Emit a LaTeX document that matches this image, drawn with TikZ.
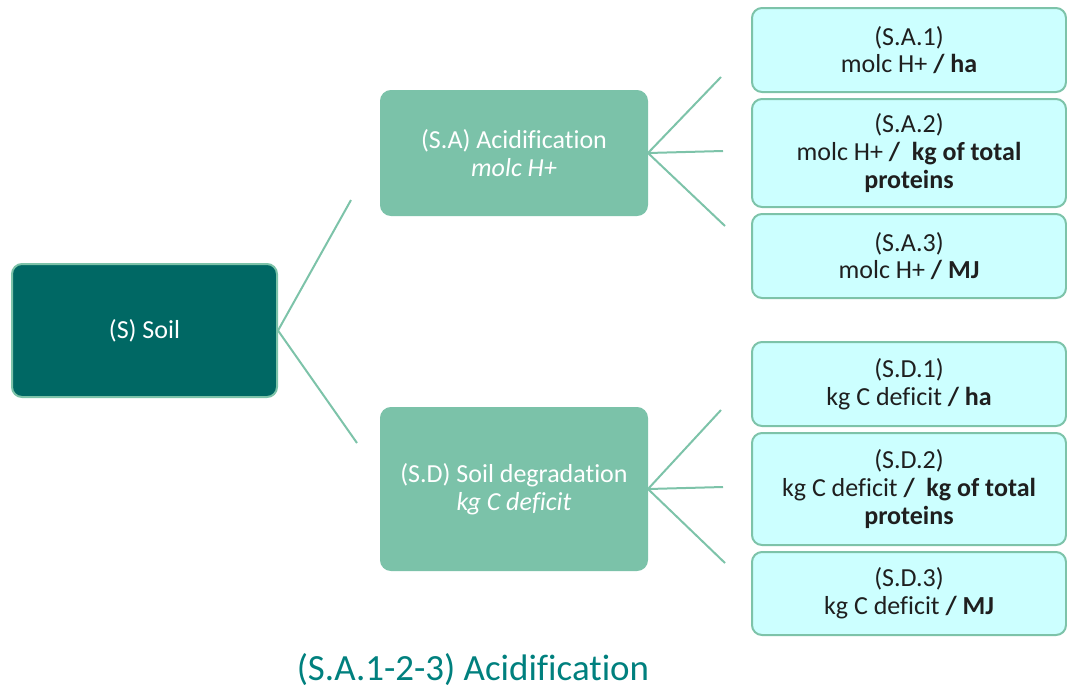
\documentclass[tikz,border=0pt]{standalone}
\usepackage{fontspec}
\setmainfont{Carlito}[Ligatures=CommonOff]
\usetikzlibrary{positioning,calc}

\definecolor{soildark}{HTML}{006864}
\definecolor{midgreen}{HTML}{7BC2A9}
\definecolor{leafcyan}{HTML}{CCFFFF}
\definecolor{edgegreen}{HTML}{7DC3A9}
\definecolor{captionteal}{HTML}{00807E}

\tikzset{
	rootbox/.style={draw=edgegreen, line width=1.5pt, fill=soildark, text=white, rounded corners=7.5pt},
	catbox/.style={draw=midgreen, line width=1.5pt, fill=midgreen, text=white, rounded corners=7.5pt},
	leafbox/.style={draw=edgegreen, line width=1.5pt, fill=leafcyan, text=black!88, rounded corners=7.5pt, minimum width=235.5pt},
	branch/.style={edgegreen, line width=1.5pt}
}

\begin{document}
\begin{tikzpicture}[x=0.75pt, y=-0.75pt]
	\useasboundingbox (0, 0) rectangle (1067, 690);
	\begin{scope}
		\tikzstyle{every node}=[align=center, inner sep=0.2em, font=\fontsize{19.5}{20.8}\selectfont]
		\node[rootbox, minimum width=198.75pt, minimum height=99.75pt] (soil) at (144.5, 330.5) {(S) Soil};

		\node[catbox, minimum width=199.5pt, minimum height=93pt]    (acid) at (514, 153) {(S.A) Acidification\\\textit{molc H+}};
		\node[catbox, minimum width=199.5pt, minimum height=121.5pt] (degr) at (514, 489) {(S.D) Soil degradation\\\textit{kg C deficit}};

		\node[leafbox, minimum height=63pt] (sa1) at (909, 50)  {(S.A.1)\\molc H+ \textbf{/ ha}};
		\node[leafbox, minimum height=81pt] (sa2) at (909, 153) {(S.A.2)\\molc H+ \textbf{/\ \ kg of total}\\\textbf{proteins}};
		\node[leafbox, minimum height=63pt] (sa3) at (909, 256) {(S.A.3)\\molc H+ \textbf{/ MJ}};

		\node[leafbox, minimum height=63pt]    (sd1) at (909, 384)   {(S.D.1)\\kg C deficit \textbf{/ ha}};
		\node[leafbox, minimum height=84pt]    (sd2) at (909, 489)   {(S.D.2)\\kg C deficit \textbf{/\ \ kg of total}\\\textbf{proteins}};
		\node[leafbox, minimum height=62.25pt] (sd3) at (909, 593.5) {(S.D.3)\\kg C deficit \textbf{/ MJ}};

		\node[text=captionteal, font=\fontsize{27.7}{33}\selectfont] (caption) at (473, 670) {(S.A.1-2-3) Acidification};

		\coordinate (acid-in) at (351, 200);
		\coordinate (degr-in) at (357, 443);
		\coordinate (sa1-in)  at (721, 77);
		\coordinate (sa2-in)  at (723, 151);
		\coordinate (sa3-in)  at (725, 226);
		\coordinate (sd1-in)  at (721, 410);
		\coordinate (sd2-in)  at (723, 487);
		\coordinate (sd3-in)  at (725, 563);

		\draw [branch] (soil.east) to (acid-in);
		\draw [branch] (soil.east) to (degr-in);

		\draw [branch] (acid.east) to (sa1-in);
		\draw [branch] (acid.east) to (sa2-in);
		\draw [branch] (acid.east) to (sa3-in);

		\draw [branch] (degr.east) to (sd1-in);
		\draw [branch] (degr.east) to (sd2-in);
		\draw [branch] (degr.east) to (sd3-in);

	\end{scope}
\end{tikzpicture}
\end{document}
